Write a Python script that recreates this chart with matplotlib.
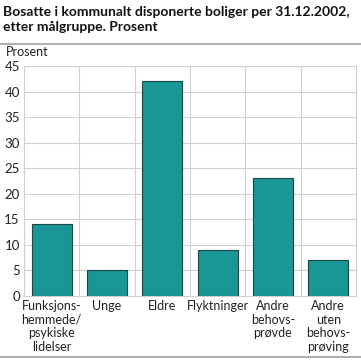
import numpy as np
import matplotlib
matplotlib.use("Agg")
import matplotlib.pyplot as plt
from matplotlib.lines import Line2D

plt.rcParams['font.family'] = ['Lato', 'DejaVu Sans']

categories = ["Funksjons-\nhemmede/\npsykiske\nlidelser", "Unge", "Eldre",
              "Flyktninger", "Andre\nbehovs-\nprøvde", "Andre\nuten\nbehovs-\nprøving"]
values = [14, 5, 42, 9, 23, 7]
yticks = [0, 5, 10, 15, 20, 25, 30, 35, 40, 45]

fig = plt.figure(figsize=(3.61, 3.61), dpi=100)
ax = fig.add_axes([24 / 361, 1 - 296 / 361, 332 / 361, 230 / 361])

x = np.arange(len(categories))
ax.bar(x, values, width=0.72, color='#1a9696', edgecolor='#1f4444', linewidth=0.8, zorder=3)

ax.set_xlim(-0.5, len(categories) - 0.5)
ax.set_ylim(0, 45)
ax.set_yticks(yticks)
ax.set_yticklabels([str(t) for t in yticks], fontsize=9.5)
ax.set_xticks(x)
ax.set_xticklabels(categories, fontsize=9, linespacing=1.15, va='top')
ax.set_xticks(np.arange(0.5, len(categories) - 0.5), minor=True)
ax.tick_params(axis='both', length=0, pad=3, colors='#222222')
ax.tick_params(axis='x', which='minor', length=0)
ax.grid(axis='y', color='#d0d0d0', linewidth=0.8, zorder=0)
ax.grid(axis='x', which='minor', color='#d0d0d0', linewidth=0.8, zorder=0)
for s in ax.spines.values():
    s.set_color('#d0d0d0')
    s.set_linewidth(0.8)

fig.text(3 / 361, 1 - 6 / 361, "Bosatte i kommunalt disponerte boliger per 31.12.2002,\netter målgruppe. Prosent",
         fontsize=10, fontweight='bold', va='top', ha='left', linespacing=1.3, color='#111111')
fig.text(6 / 361, 1 - 52 / 361, "Prosent", fontsize=9, va='center', ha='left', color='#222222')

fig.add_artist(Line2D([0, 1], [1 - 44 / 361, 1 - 44 / 361], color='#a0a0a0', linewidth=1.2))
fig.add_artist(Line2D([0, 1], [1 - 357 / 361, 1 - 357 / 361], color='#a0a0a0', linewidth=1.2))

fig.savefig("out.png", dpi=100)
